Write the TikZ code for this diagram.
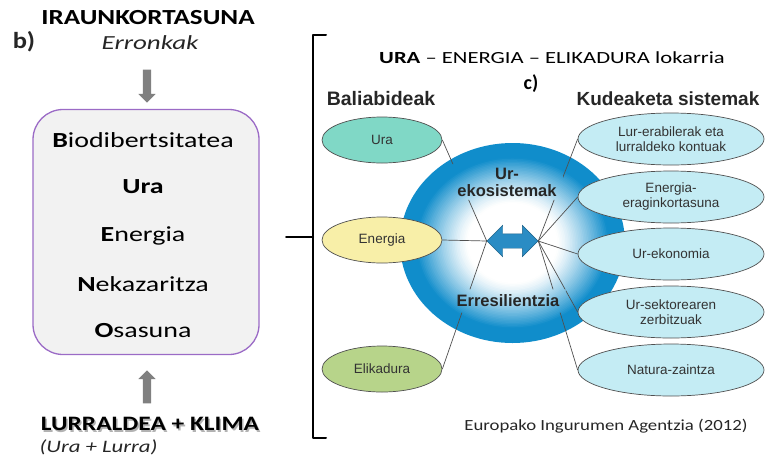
\documentclass[tikz,border=0pt]{standalone}
\usepackage{graphicx}
\usepackage{fontspec}
\setmainfont{Carlito}
\newfontfamily\arialf{Liberation Sans}
\usetikzlibrary{shapes.geometric,shapes.arrows}
\definecolor{uraC}{HTML}{80D8C6}
\definecolor{enC}{HTML}{F8EFA8}
\definecolor{elC}{HTML}{B7D48A}
\definecolor{kudC}{HTML}{C4ECF4}
\definecolor{boxC}{HTML}{F2F2F2}
\definecolor{purpC}{HTML}{9B6BC6}
\definecolor{blueA}{HTML}{2A8CC4}
\definecolor{ballE}{HTML}{108DCB}
\definecolor{lineC}{HTML}{505050}
\newcommand\widen[2][1.3]{\scalebox{#1}[1]{#2}}
\tikzset{
  res/.style={ellipse, draw=lineC, line width=0.7pt, minimum width=120, minimum height=46,
     inner sep=0, font=\arialf\fontsize{13.5}{15}\selectfont, text=black!80},
  kud/.style={ellipse, draw=lineC, line width=0.7pt, fill=kudC, minimum width=186, minimum height=52,
     inner sep=0, align=center, font=\arialf\fontsize{13.5}{15}\selectfont, text=black!80},
  conn/.style={draw=lineC, line width=0.7pt},
  grayarrow/.style={single arrow, fill=black!50, draw=none, minimum height=33, minimum width=17,
     inner sep=4, single arrow head extend=4.5},
  boxitem/.style={font=\fontsize{21.5}{24}\selectfont},
  bracket/.style={line width=2pt, line cap=round, line join=round}
}
\begin{document}
\begin{tikzpicture}[x=1pt,y=-1pt]
\useasboundingbox (0,0) rectangle (767,461);

% ---------- left part ----------
\node[font=\bfseries\fontsize{21.5}{24}\selectfont] (title) at (148,18) {\widen[1.26]{IRAUNKORTASUNA}};
\node[font=\bfseries\fontsize{23}{24}\selectfont, text=black!85] (lb) at (24,42) {\widen[1.15]{b)}};
\node[font=\itshape\fontsize{20}{22}\selectfont, text=black!85] (err) at (150,43) {\widen[1.35]{Erronkak}};
\node[grayarrow, shape border rotate=270] (down) at (147,84) {};

\node[draw=purpC, line width=1.3pt, fill=boxC, rounded corners=30,
      minimum width=226, minimum height=245] (box) at (146,232) {};
\node[boxitem] (i1) at (143,140) {\widen{\textbf{B}iodibertsitatea}};
\node[boxitem] (i2) at (143,187) {\widen{\textbf{Ura}}};
\node[boxitem] (i3) at (143,236) {\widen{\textbf{E}nergia}};
\node[boxitem] (i4) at (143,284) {\widen{\textbf{N}ekazaritza}};
\node[boxitem] (i5) at (143,331) {\widen{\textbf{O}sasuna}};

\node[grayarrow, shape border rotate=90] (up) at (147,389) {};
\node[font=\bfseries\fontsize{20.5}{24}\selectfont, text=black!30] (lkshadow) at (151.5,425.5) {\widen[1.24]{LURRALDEA + KLIMA}};
\node[font=\bfseries\fontsize{20.5}{24}\selectfont] (lk) at (150,424) {\widen[1.24]{LURRALDEA + KLIMA}};
\node[font=\itshape\fontsize{17.5}{20}\selectfont, text=black!85, anchor=west] (ul) at (36,447) {\widen[1.3]{(Ura + Lurra)}};

% ---------- bracket ----------
\coordinate (bt) at (326,35);
\coordinate (bb) at (326,438);
\coordinate (bm) at (286,237);
\draw[bracket] (bt) -- (313,35) -- (313,438) -- (bb);
\draw[bracket] (313,237) -- (bm);

% ---------- right part ----------
\node[font=\fontsize{17}{20}\selectfont] (head) at (552,58) {\widen[1.33]{\textbf{URA} – ENERGIA – ELIKADURA lokarria}};
\node[font=\bfseries\fontsize{20}{22}\selectfont] (lc) at (531,84) {c)};
\node[font=\arialf\bfseries\fontsize{19.5}{22}\selectfont, text=black!85] (bal) at (381,99) {Baliabideak};
\node[font=\arialf\bfseries\fontsize{19}{22}\selectfont, text=black!85] (kud) at (668,99) {Kudeaketa sistemak};

% ball with manual radial gradient
\node[ellipse, minimum width=225, minimum height=200, inner sep=0] (ball) at (512.5,243) {};
\foreach \i in {0,...,70}{
  \pgfmathsetmacro\s{1-\i/70}
  \pgfmathsetmacro\t{max(0,min(1,(\s-0.40)/0.46))}
  \pgfmathtruncatemacro\p{100*(\t^1.25)}
  \pgfmathsetmacro\rx{112.5*\s}
  \pgfmathsetmacro\ry{100*\s}
  \fill[ballE!\p!white] (ball.center) ellipse [x radius=\rx pt, y radius=\ry pt];
}

\node[double arrow, fill=blueA, draw=blueA!70!black, line width=0.4pt, minimum height=51,
      minimum width=31, inner sep=7, double arrow head extend=8.5] (arr) at (512.5,241) {};

\node[font=\arialf\bfseries\fontsize{16.5}{17}\selectfont, align=center, text=black!85] (eko) at (507,182) {Ur-\\ekosistemak};
\node[font=\arialf\bfseries\fontsize{16.5}{17}\selectfont, text=black!85] (resi) at (508,301) {Erresilientzia};

\node[res, fill=uraC] (ura) at (382,140) {Ura};
\node[res, fill=enC] (ene) at (382,240) {Energia};
\node[res, fill=elC] (eli) at (382,369) {Elikadura};

\node[kud] (k1) at (671,139) {Lur-erabilerak eta\\lurraldeko kontuak};
\node[kud] (k2) at (671,197) {Energia-\\eraginkortasuna};
\node[kud] (k3) at (671,254) {Ur-ekonomia};
\node[kud] (k4) at (671,312) {Ur-sektorearen\\zerbitzuak};
\node[kud] (k5) at (671,370) {Natura-zaintza};

\begin{scope}[even odd rule]
\clip (0,0) rectangle (767,461)
   ([xshift=-3pt]eko.south west) rectangle ([xshift=3pt]eko.north east)
   ([xshift=-3pt,yshift=-2pt]resi.south west) rectangle ([xshift=3pt,yshift=2pt]resi.north east);
\draw[conn] (ura.east) -- (arr.west);
\draw[conn] (ene.east) -- (arr.west);
\draw[conn] (eli.east) -- (arr.west);
\draw[conn] (arr.east) -- (k1.west);
\draw[conn] (arr.east) -- (k2.west);
\draw[conn] (arr.east) -- (k3.west);
\draw[conn] (arr.east) -- (k4.west);
\draw[conn] (arr.east) -- (k5.west);
\end{scope}

\node[font=\fontsize{15.5}{18}\selectfont, text=black!85] (src) at (606,426) {\widen[1.21]{Europako Ingurumen Agentzia (2012)}};
\end{tikzpicture}
\end{document}
